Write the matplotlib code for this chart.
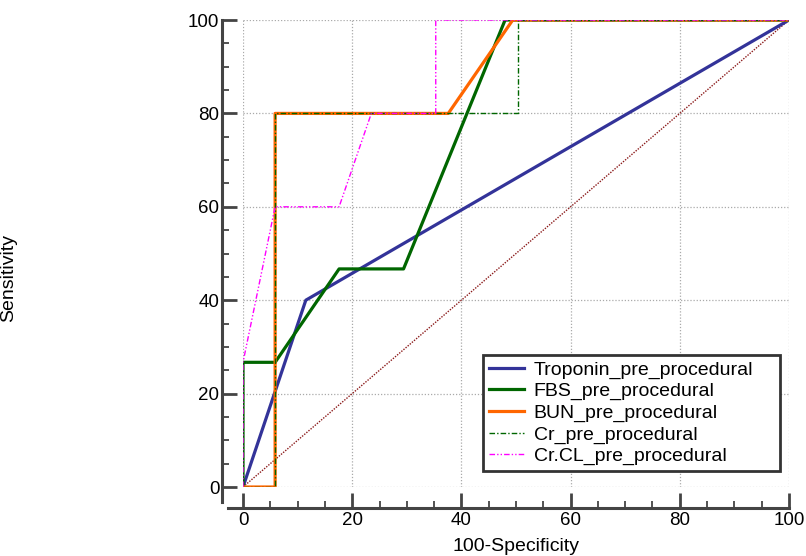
import matplotlib
matplotlib.use("Agg")
import matplotlib.pyplot as plt
from matplotlib.ticker import MultipleLocator

plt.rcParams['font.family'] = ['Liberation Sans', 'DejaVu Sans']

# ROC curve points (100-Specificity, Sensitivity)
troponin_x = [0, 11.5, 100]
troponin_y = [0, 40, 100]

fbs_x = [0, 0, 5.88, 17.6, 29.4, 48.0, 100]
fbs_y = [0, 26.7, 26.7, 46.7, 46.7, 100, 100]

bun_x = [0, 5.88, 5.88, 37.6, 49.4, 100]
bun_y = [0, 0, 80, 80, 100, 100]

cr_x = [0, 5.88, 5.88, 50.4, 50.4, 100]
cr_y = [0, 0, 80, 80, 100, 100]

crcl_x = [0, 0, 5.88, 17.6, 23.5, 35.3, 35.3, 100]
crcl_y = [0, 26.7, 60, 60, 80, 80, 100, 100]

labels = ['Troponin_pre_procedural', 'FBS_pre_procedural', 'BUN_pre_procedural',
          'Cr_pre_procedural', 'Cr.CL_pre_procedural']

fig = plt.figure(figsize=(8.06, 5.56), dpi=100)
ax = fig.add_axes([0.3015, 0.1241, 0.6774, 0.8399])

ax.plot([0, 100], [0, 100], linestyle=(0, (1, 1)), color='#8b1a1a', linewidth=1.0, zorder=2)

ax.plot(troponin_x, troponin_y, color='#333399', linewidth=2.3, label=labels[0], zorder=3)
ax.plot(fbs_x, fbs_y, color='#006600', linewidth=2.3, label=labels[1], zorder=3)
ax.plot(bun_x, bun_y, color='#ff6600', linewidth=2.3, label=labels[2], zorder=3)
ax.plot(cr_x, cr_y, color='#006600', linewidth=1.0, linestyle=(0, (4, 1.5, 1, 1.5)),
        label=labels[3], zorder=4)
ax.plot(crcl_x, crcl_y, color='#ff00ff', linewidth=1.0,
        linestyle=(0, (4, 1.5, 1, 1.5, 1, 1.5)), label=labels[4], zorder=5)

ax.set_xlim(0, 100)
ax.set_ylim(0, 100)
ax.xaxis.set_major_locator(MultipleLocator(20))
ax.yaxis.set_major_locator(MultipleLocator(20))
ax.xaxis.set_minor_locator(MultipleLocator(5))
ax.yaxis.set_minor_locator(MultipleLocator(5))

ax.grid(True, which='major', linestyle=(0, (1, 1.5)), color='#aaaaaa', linewidth=0.9)
ax.set_axisbelow(True)

for s in ['top', 'right']:
    ax.spines[s].set_visible(False)
for s in ['left', 'bottom']:
    ax.spines[s].set_position(('outward', 15))
    ax.spines[s].set_linewidth(2.2)
    ax.spines[s].set_color('#444444')
ax.spines['left'].set_bounds(-3.3, 100)
ax.spines['bottom'].set_bounds(-2.8, 100)

ax.tick_params(which='major', direction='in', length=11, width=2.0, color='#444444',
               labelsize=13.5)
ax.tick_params(which='minor', direction='in', length=5, width=1.3, color='#444444')
ax.tick_params(axis='y', which='major', pad=2)
ax.tick_params(axis='x', which='major', pad=3)

ax.set_xlabel('100-Specificity', fontsize=14, labelpad=6.5)
fig.text(0.011, 0.5, 'Sensitivity', rotation=90, fontsize=14, ha='center', va='center')

leg = ax.legend(loc='lower left', bbox_to_anchor=(0.4396, 0.034, 0.544, 0.0),
                mode='expand', borderaxespad=0,
                fontsize=14, fancybox=False, framealpha=1, edgecolor='#333333',
                handlelength=1.8, handletextpad=0.5, labelspacing=0.2, borderpad=0.3)
leg.get_frame().set_linewidth(2.0)

fig.savefig('out.png', dpi=100)
